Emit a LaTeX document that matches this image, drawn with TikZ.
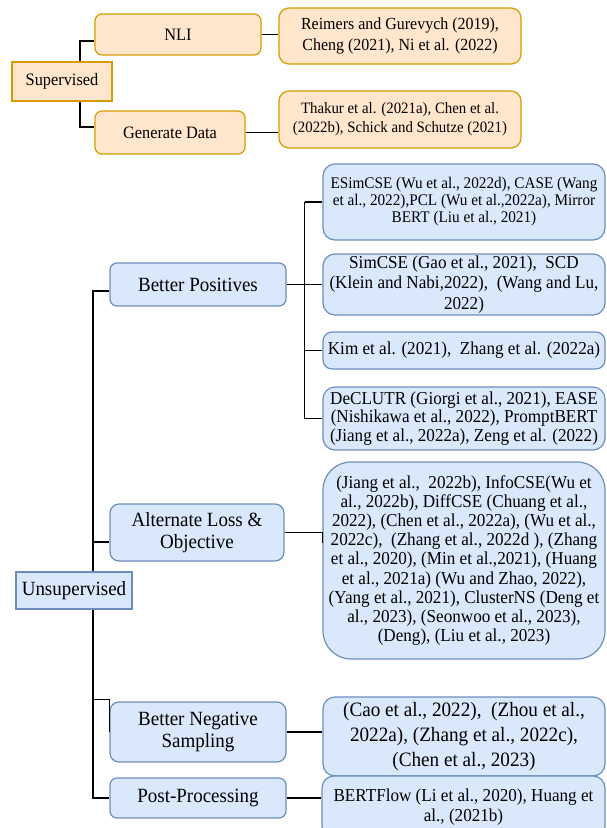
\documentclass[tikz,border=0pt]{standalone}
\usepackage{fontspec}
\setmainfont{Liberation Serif}[FakeStretch=0.94]
\usetikzlibrary{calc}
\definecolor{orgfill}{HTML}{FFE6CC}
\definecolor{orgline}{HTML}{D79B00}
\definecolor{bluefill}{HTML}{DAE8FC}
\definecolor{blueline}{HTML}{6C8EBF}

\begin{document}
\begin{tikzpicture}[x=1pt, y=-1pt,
   wire/.style = {line width=1.5pt},
   supbox/.style = {draw=orgline, fill=orgfill, line width=1.2pt, inner sep=1pt,
      align=center, font=\fontsize{17.4}{20.7}\selectfont},
   unsbox/.style = {draw=blueline, fill=bluefill, line width=1.2pt, inner sep=1pt,
      align=center, font=\fontsize{20.2}{22.7}\selectfont},
   leaf/.style = {unsbox, rounded corners=12pt, minimum width=282pt,
      font=\fontsize{18.2}{19}\selectfont}]
   \useasboundingbox (0,0) rectangle (606,828);

   % supervised branch
   \node[supbox, minimum width=100pt, minimum height=39pt] (sup) at (62,81.5) {Supervised};
   \node[supbox, rounded corners=7pt, minimum width=166pt, minimum height=41pt] (nli) at (178,34.5) {NLI};
   \node[supbox, rounded corners=7pt, minimum width=150pt, minimum height=43pt] (gendata) at (170,132.5) {Generate Data};
   \node[supbox, rounded corners=10pt, minimum width=242pt, minimum height=56pt, font=\fontsize{17}{20.7}\selectfont] (reimers) at (400,36)
      {Reimers and Gurevych (2019),\\ Cheng (2021), Ni et al. (2022)};
   \node[supbox, rounded corners=10pt, minimum width=242pt, minimum height=57pt, font=\fontsize{15.8}{19.3}\selectfont] (thakur) at (400,119.5)
      {Thakur et al. (2021a), Chen et al.\\ (2022b), Schick and Schutze (2021)};

   \draw[wire] ($(sup.north)+(18,0)$) |- ($(nli.west)+(0,6.5)$);
   \draw[wire] ($(sup.south)+(18,0)$) |- ($(gendata.west)+(0,-5.5)$);
   \draw[wire] (nli.east) -- (nli.east -| reimers.west);
   \draw[wire] (gendata.east) -- (gendata.east -| thakur.west);

   % unsupervised branch
   \node[unsbox, minimum width=116pt, minimum height=37pt] (unsup) at (74,590.5) {Unsupervised};
   \node[unsbox, rounded corners=7pt, minimum width=176pt, minimum height=43pt] (bpos) at (198,284.5) {Better Positives};
   \node[unsbox, rounded corners=9pt, minimum width=174pt, minimum height=57pt] (alt) at (197,532.5) {Alternate Loss \&\\ Objective};
   \node[unsbox, rounded corners=9pt, minimum width=176pt, minimum height=60pt] (neg) at (198,732) {Better Negative\\ Sampling};
   \node[unsbox, rounded corners=7pt, minimum width=176pt, minimum height=40pt] (post) at (198,798) {Post-Processing};

   \node[leaf, minimum height=76pt, font=\fontsize{16.2}{17}\selectfont] (esim) at (464,202)
      {ESimCSE (Wu et al., 2022d), CASE (Wang\\ et al., 2022),PCL (Wu et al.,2022a), Mirror\\ BERT (Liu et al., 2021)};
   \node[leaf, minimum height=61pt, font=\fontsize{18.2}{20.3}\selectfont] (simcse) at (464,284.5)
      {SimCSE (Gao et al., 2021),\ \ SCD\\ (Klein and Nabi,2022),\ \ (Wang and Lu,\\ 2022)};
   \node[leaf, rounded corners=9pt, minimum height=37pt] (kim) at (464,350.5)
      {Kim et al. (2021),\ \ Zhang et al. (2022a)};
   \node[leaf, minimum height=63pt, font=\fontsize{18.2}{18.8}\selectfont] (declutr) at (464,418.5)
      {DeCLUTR (Giorgi et al., 2021), EASE\\ (Nishikawa et al., 2022), PromptBERT\\ (Jiang et al., 2022a), Zeng et al. (2022)};
   \node[leaf, rounded corners=28pt, minimum height=197pt, font=\fontsize{18.2}{19.2}\selectfont] (jiang) at (464,560.5)
      {(Jiang et al.,\ \ 2022b), InfoCSE(Wu et\\ al., 2022b), DiffCSE (Chuang et al.,\\
       2022), (Chen et al., 2022a), (Wu et al.,\\ 2022c),\ \ (Zhang et al., 2022d ), (Zhang\\
       et al., 2020), (Min et al.,2021), (Huang\\ et al., 2021a) (Wu and Zhao, 2022),\\
       (Yang et al., 2021), ClusterNS (Deng et\\ al., 2023), (Seonwoo et al., 2023),\\
       (Deng), (Liu et al., 2023)};
   \node[leaf, minimum height=79pt, font=\fontsize{20.4}{25}\selectfont] (negleaf) at (464,736.5)
      {(Cao et al., 2022),\ \ (Zhou et al.,\\ 2022a), (Zhang et al., 2022c),\\ (Chen et al., 2023)};
   \node[leaf, minimum width=283pt, minimum height=62pt, font=\fontsize{18.2}{20}\selectfont] (postleaf) at (463.5,807)
      {BERTFlow (Li et al., 2020), Huang et\\ al., (2021b)};

   \coordinate (trunk) at ($(unsup.north)+(19,0)$);
   \coordinate (trunkb) at ($(unsup.south)+(19,0)$);
   \coordinate (altin) at ($(alt.west)+(0,9.5)$);
   \coordinate (negin) at ($(neg.north west)+(0,-2)$);
   \draw[wire] ($(bpos.west)+(0,6.5)$) -| (trunk);
   \draw[wire] (trunkb) |- (post.west);
   \draw[wire] (altin) -- (altin -| trunk);
   \draw[wire] (negin -| trunk) -| (neg.west);

   \draw[wire] (bpos.east) -- ++(18,0) coordinate (fork);
   \draw[wire] (fork |- esim.west) -- (fork |- declutr.west);
   \foreach \leafname in {esim, simcse, kim, declutr}
      \draw[wire] (fork |- \leafname.west) -- (\leafname.west);
   \draw[wire] (alt.east) -| ($(jiang.west)+(0,-17.5)$);
   \draw[wire] (neg.east) -- (neg.east -| negleaf.west);
   \draw[wire] (post.east) -- (post.east -| postleaf.west);
\end{tikzpicture}
\end{document}
